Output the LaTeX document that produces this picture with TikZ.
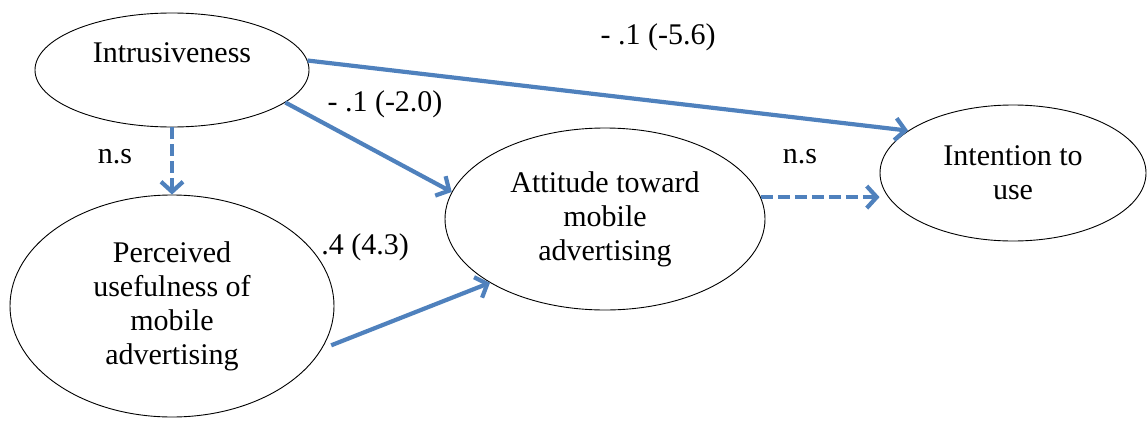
\documentclass[tikz,border=0pt]{standalone}
\usepackage{fontspec}
\setmainfont{Liberation Serif}
\usetikzlibrary{shapes.geometric,arrows.meta}
\definecolor{arrowblue}{RGB}{79,129,189}
\begin{document}
\begin{tikzpicture}[x=1pt, y=-1pt, construct/.style={ellipse, draw, line width=0.9pt, inner sep=0, align=center, font=\fontsize{30}{34}\selectfont}, effect/.style={arrowblue, line width=4.2pt, ->}, nseffect/.style={effect, dash pattern=on 12pt off 5pt}, l/.style={font=\fontsize{30}{34}\selectfont}, >={Straight Barb[length=10pt,width=22pt]}]
	\useasboundingbox (0,0) rectangle (1147,423);

	\node[construct, minimum width=274pt, minimum height=114pt] (intr) at (172,70) {Intrusiveness\\~};
	\node[construct, minimum width=324pt, minimum height=222pt] (perc) at (172,306) {Perceived\\usefulness of\\mobile\\advertising};
	\node[construct, minimum width=320pt, minimum height=182pt] (att) at (605,219) {Attitude toward\\mobile\\advertising};
	\node[construct, minimum width=266pt, minimum height=136pt] (int) at (1013,173) {Intention to\\use};

	\draw[effect] (intr.4) -- (int.158);
	\draw[effect] (intr.-16) -- (att.170);
	\draw[effect, shorten <=10pt] (perc.-16) -- (att.209);
	\draw[nseffect] (intr.south) -- (perc.north);
	\draw[nseffect] (att.8) -- (att.8 -| int.west);

	\node[l] (b1) at (658,37) {- .1 (-5.6)};
	\node[l] (b2) at (385,104) {- .1 (-2.0)};
	\node[l] (ns1) at (115,157) {n.s};
	\node[l] (ns2) at (800,157) {n.s};
	\node[l] (b3) at (365,247) {.4 (4.3)};
\end{tikzpicture}
\end{document}
